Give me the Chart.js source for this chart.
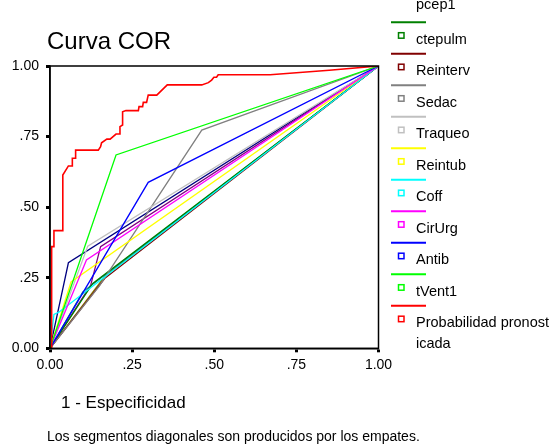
<!DOCTYPE html>
<html>
<head>
<meta charset="utf-8">
<script src="https://cdn.jsdelivr.net/npm/chart.js@4.4.1/dist/chart.umd.min.js"></script>
<style>
  html, body { margin: 0; padding: 0; background: #fff; }
  #wrap { position: relative; width: 550px; height: 446px; }
</style>
</head>
<body>
<div id="wrap"><canvas id="rocChart" width="550" height="446"></canvas></div>
<script>
// ROC curves: each array holds [1 - specificity, sensitivity] points
const rocVar1 = [[0, 0], [0.167, 0.255], [1, 1]];
const rocVar2 = [[0, 0], [0.056, 0.303], [1, 1]];
const rocVar3 = [[0, 0], [0.124, 0.224], [0.154, 0.36], [1, 1]];
const rocPcep1 = [[0, 0], [0.10, 0.20], [1, 1]];
const rocCtepulm = [[0, 0], [0.13, 0.23], [1, 1]];
const rocReinterv = [[0, 0], [0.167, 0.248], [1, 1]];
const rocSedac = [[0, 0], [0.15, 0.22], [0.462, 0.773], [1, 1]];
const rocTraqueo = [[0, 0], [0.115, 0.362], [1, 1]];
const rocReintub = [[0, 0], [0.064, 0.235], [1, 1]];
const rocCoff = [[0, 0], [0.012, 0.12], [0.027, 0.128], [1, 1]];
const rocCirUrg = [[0, 0], [0.111, 0.313], [1, 1]];
const rocAntib = [[0, 0], [0.299, 0.588], [1, 1]];
const rocTVent1 = [[0, 0], [0.201, 0.685], [1, 1]];
const rocProb = [
  [0, 0], [0.005, 0], [0.005, 0.36], [0.012, 0.36], [0.012, 0.417], [0.039, 0.417],
  [0.039, 0.614], [0.056, 0.646], [0.068, 0.646], [0.068, 0.673], [0.078, 0.673],
  [0.078, 0.702], [0.147, 0.702], [0.154, 0.714], [0.157, 0.728], [0.173, 0.741],
  [0.183, 0.741], [0.201, 0.759], [0.211, 0.759], [0.213, 0.785], [0.221, 0.791],
  [0.221, 0.838], [0.231, 0.842], [0.269, 0.842], [0.271, 0.856], [0.282, 0.856],
  [0.284, 0.871], [0.294, 0.871], [0.299, 0.897], [0.325, 0.897], [0.357, 0.933],
  [0.462, 0.933], [0.482, 0.941], [0.492, 0.950], [0.499, 0.960], [0.507, 0.960],
  [0.512, 0.969], [0.670, 0.969], [0.85, 0.985], [1, 1]
];

const seriesNames = ['Var1', 'Var2', 'Var3', 'Presion espiratoria pcep1', 'ctepulm',
  'Reinterv', 'Sedac', 'Traqueo', 'Reintub', 'Coff', 'CirUrg', 'Antib', 'tVent1',
  'Probabilidad pronosticada'];
const seriesData = [rocVar1, rocVar2, rocVar3, rocPcep1, rocCtepulm, rocReinterv,
  rocSedac, rocTraqueo, rocReintub, rocCoff, rocCirUrg, rocAntib, rocTVent1, rocProb];
const seriesColors = ['#808000', '#000080', '#800080', '#008080', '#008000',
  '#800000', '#808080', '#c0c0c0', '#ffff00', '#00ffff', '#ff00ff', '#0000ff',
  '#00ff00', '#ff0000'];

const axisTicks = [0, 0.25, 0.5, 0.75, 1];
const tickText = ['0.00', '.25', '.50', '.75', '1.00'];

const FONT = '"Liberation Sans", Arial, sans-serif';

// split long labels every 20 characters, like the legend does
function wrapLabel(s) {
  const out = [];
  for (let i = 0; i < s.length; i += 20) out.push(s.slice(i, i + 20).trim());
  return out;
}

const decorations = {
  id: 'decorations',
  afterDraw(chart) {
    const { ctx, chartArea: a } = chart;
    ctx.save();
    // frame around the plot
    ctx.strokeStyle = '#000';
    ctx.lineWidth = 1.5;
    ctx.strokeRect(a.left, a.top, a.right - a.left, a.bottom - a.top);

    ctx.fillStyle = '#000';
    ctx.textBaseline = 'alphabetic';
    ctx.textAlign = 'left';
    ctx.font = '24px ' + FONT;
    ctx.fillText('Curva COR', 47, 49);
    ctx.font = '17px ' + FONT;
    ctx.fillText('1 - Especificidad', 61, 408);
    ctx.font = '14px ' + FONT;
    ctx.fillText('Los segmentos diagonales son producidos por los empates.', 47, 441);

    // legend, laid out from the bottom entry upwards
    ctx.font = '14.5px ' + FONT;
    let top = 305.7;
    for (let i = seriesNames.length - 1; i >= 0; i--) {
      const lines = wrapLabel(seriesNames[i]);
      if (i < seriesNames.length - 1) {
        top -= 31.5 + (lines.length > 1 ? 21 * (lines.length - 1) + 3.7 : 0);
      }
      const col = seriesColors[i];
      ctx.strokeStyle = col;
      ctx.lineWidth = 2;
      ctx.beginPath();
      ctx.moveTo(391, top);
      ctx.lineTo(426, top);
      ctx.stroke();
      ctx.lineWidth = 1.5;
      ctx.fillStyle = '#fff';
      ctx.fillRect(398.5, top + 10.5, 5.5, 5.5);
      ctx.strokeRect(398.5, top + 10.5, 5.5, 5.5);
      ctx.fillStyle = '#000';
      lines.forEach((ln, k) => ctx.fillText(ln, 416, top + 21.5 + 21 * k));
    }
    ctx.restore();
  }
};

const datasets = seriesData.map((pts, i) => ({
  label: seriesNames[i],
  data: pts.map(p => ({ x: p[0], y: p[1] })),
  borderColor: seriesColors[i],
  borderWidth: i === seriesData.length - 1 ? 1.6 : 1.3,
  pointRadius: 0,
  showLine: true,
  fill: false,
  tension: 0,
  order: seriesData.length - i
}));

const tickStyle = {
  color: '#000',
  font: { family: FONT, size: 14 },
  autoSkip: false,
  callback: v => {
    const k = axisTicks.indexOf(v);
    return k >= 0 ? tickText[k] : '';
  }
};

new Chart(document.getElementById('rocChart'), {
  type: 'scatter',
  data: { datasets },
  options: {
    responsive: false,
    animation: false,
    events: [],
    layout: { padding: { left: 0, top: 66, right: 171.5, bottom: 67.7 } },
    plugins: { legend: { display: false }, tooltip: { enabled: false } },
    scales: {
      x: {
        type: 'linear', min: 0, max: 1,
        afterBuildTicks: s => { s.ticks = axisTicks.map(v => ({ value: v })); },
        afterFit: s => { s.height = 30; },
        ticks: Object.assign({ padding: 4 }, tickStyle),
        grid: { display: true, drawOnChartArea: false, tickLength: 4, tickWidth: 3, tickColor: '#000' },
        border: { display: true, color: '#000', width: 1.5 }
      },
      y: {
        type: 'linear', min: 0, max: 1,
        afterBuildTicks: s => { s.ticks = axisTicks.map(v => ({ value: v })); },
        afterFit: s => { s.width = 50; },
        ticks: Object.assign({ padding: 7 }, tickStyle),
        grid: { display: true, drawOnChartArea: false, tickLength: 4, tickWidth: 3, tickColor: '#000' },
        border: { display: true, color: '#000', width: 1.5 }
      }
    }
  },
  plugins: [decorations]
});
</script>
</body>
</html>
